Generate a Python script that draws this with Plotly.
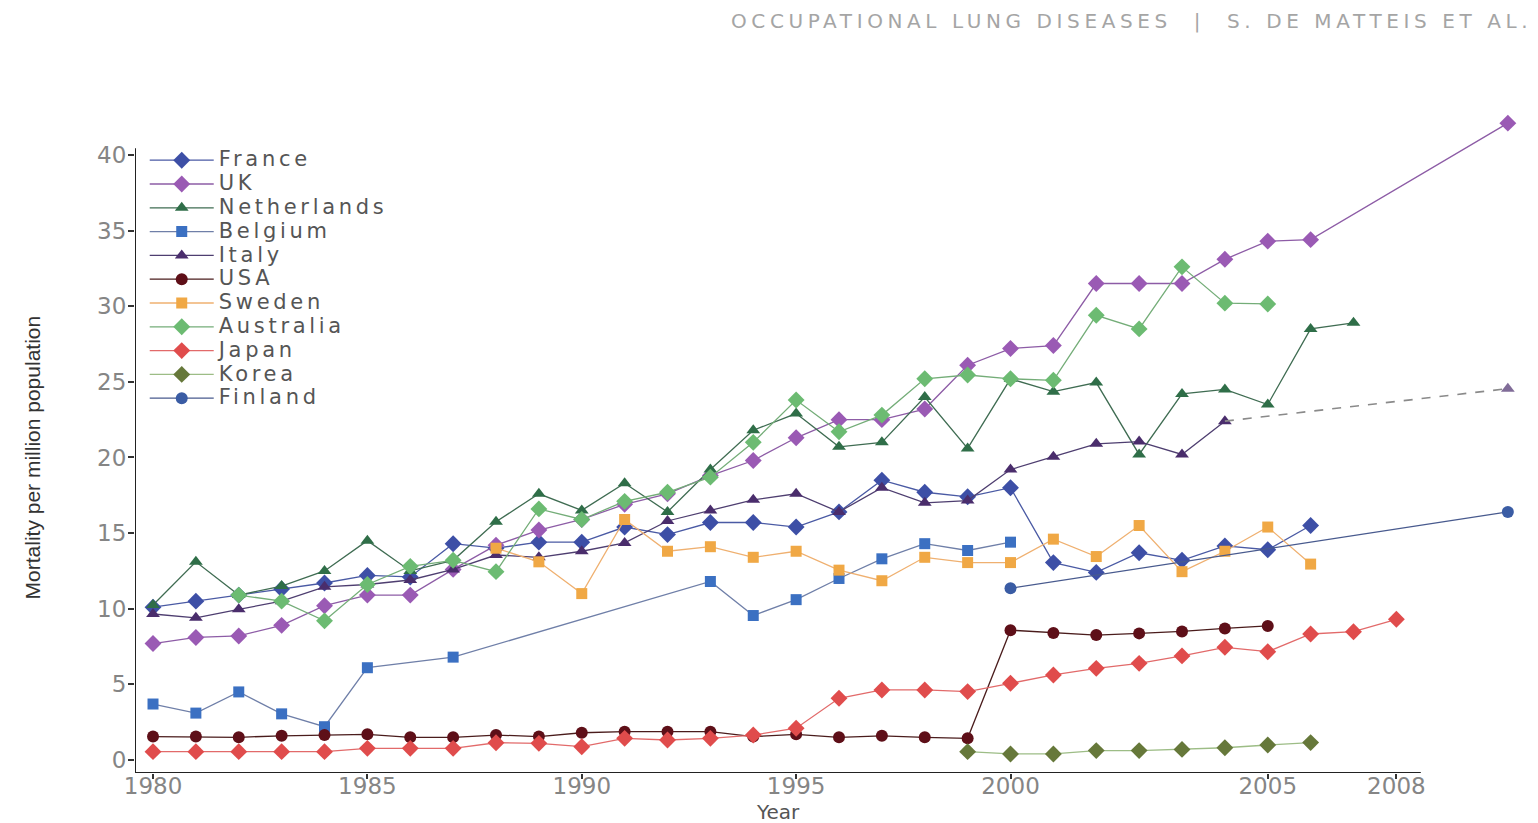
import plotly.graph_objects as go

# ---- data: mortality per million population, by country ----
# x positions are the plotted year slots; the final "projection" slot sits past the axis end
france_years = list(range(1980, 2008))
france_vals = [10.1, 10.5, 10.9, 11.3, 11.7, 12.2, 12.1, 14.3, 14.0, 14.4, 14.4, 15.4, 14.9,
               15.7, 15.7, 15.4, 16.4, 18.5, 17.7, 17.4, 18.0, 13.05, 12.4, 13.7, 13.2, 14.15,
               13.9, 15.5]

uk_years = list(range(1980, 2008)) + [2011.6]
uk_vals = [7.7, 8.1, 8.2, 8.9, 10.2, 10.9, 10.9, 12.6, 14.2, 15.2, 15.9, 16.9, 17.6, 18.8,
           19.8, 21.3, 22.5, 22.5, 23.2, 26.1, 27.2, 27.4, 31.5, 31.5, 31.5, 33.1, 34.3, 34.4,
           42.1]

netherlands_years = list(range(1980, 2009))
netherlands_vals = [10.25, 13.1, 10.9, 11.5, 12.5, 14.5, 12.5, 13.2, 15.75, 17.6, 16.5, 18.3,
                    16.4, 19.2, 21.8, 22.9, 20.7, 21.0, 24.0, 20.6, 25.2, 24.35, 24.95, 20.2,
                    24.2, 24.5, 23.5, 28.5, 28.9]

belgium_years = [1980, 1981, 1982, 1983, 1984, 1985, 1987, 1993, 1994, 1995, 1996, 1997,
                 1998, 1999, 2000]
belgium_vals = [3.7, 3.1, 4.5, 3.05, 2.2, 6.1, 6.8, 11.8, 9.55, 10.6, 12.0, 13.3, 14.3,
                13.85, 14.4]

italy_years = list(range(1980, 2006))
italy_vals = [9.65, 9.4, 9.96, 10.5, 11.45, 11.6, 11.9, 12.6, 13.55, 13.4, 13.8, 14.35, 15.8,
              16.5, 17.2, 17.6, 16.4, 18.0, 17.0, 17.15, 19.2, 20.05, 20.9, 21.05, 20.2, 22.4]
italy_proj_years = [2005, 2011.6]
italy_proj_vals = [22.4, 24.55]

usa_years = list(range(1980, 2007))
usa_vals = [1.55, 1.55, 1.5, 1.6, 1.65, 1.7, 1.5, 1.5, 1.65, 1.55, 1.8, 1.87, 1.87, 1.87,
            1.55, 1.7, 1.5, 1.6, 1.5, 1.43, 8.58, 8.4, 8.26, 8.37, 8.5, 8.7, 8.86]

sweden_years = list(range(1988, 2008))
sweden_vals = [14.0, 13.1, 11.0, 15.9, 13.8, 14.1, 13.4, 13.8, 12.55, 11.85, 13.4, 13.05,
               13.05, 14.6, 13.45, 15.5, 12.45, 13.8, 15.4, 12.95]

australia_years = list(range(1982, 2007))
australia_vals = [10.9, 10.5, 9.2, 11.6, 12.8, 13.2, 12.45, 16.6, 15.9, 17.1, 17.7, 18.7,
                  21.0, 23.8, 21.7, 22.8, 25.2, 25.45, 25.2, 25.1, 29.4, 28.5, 32.6, 30.2,
                  30.15]

japan_years = list(range(1980, 2010))
japan_vals = [0.55, 0.55, 0.55, 0.55, 0.55, 0.77, 0.77, 0.77, 1.14, 1.1, 0.88, 1.43, 1.32,
              1.43, 1.65, 2.1, 4.08, 4.63, 4.63, 4.52, 5.07, 5.62, 6.06, 6.39, 6.88, 7.45,
              7.16, 8.33, 8.48, 9.3]

korea_years = list(range(1999, 2008))
korea_vals = [0.55, 0.4, 0.4, 0.62, 0.62, 0.7, 0.81, 0.99, 1.15]

finland_years = [2000, 2011.6]
finland_vals = [11.35, 16.4]

# axis ticks (the slot for 2006 carries the "2005" label, the slot for 2009 "2008")
x_tick_vals = [1980, 1985, 1990, 1995, 2000, 2006, 2009]
x_tick_text = ["1980", "1985", "1990", "1995", "2000", "2005", "2008"]
y_tick_vals = [0, 5, 10, 15, 20, 25, 30, 35, 40]

X_MIN, X_MAX = 1979.58, 2012.0
Y_MIN, Y_MAX = -0.86, 42.64
AXIS_X_END = 2009.57
AXIS_Y_END = 40.45

series = [
    # name, years, values, symbol, marker color, line color, marker size
    ("France", france_years, france_vals, "diamond", "#3d4fa6", "#4a5aa4", 13),
    ("UK", uk_years, uk_vals, "diamond", "#9a5ab4", "#8d5ca6", 13),
    ("Netherlands", netherlands_years, netherlands_vals, "triangle-up", "#2f6e48", "#3f6c52", 12),
    ("Belgium", belgium_years, belgium_vals, "square", "#3b70c2", "#6f7fa8", 11),
    ("Italy", italy_years, italy_vals, "triangle-up", "#4a2d6c", "#4e3e70", 12),
    ("USA", usa_years, usa_vals, "circle", "#5e0f18", "#4a1c1c", 12),
    ("Sweden", sweden_years, sweden_vals, "square", "#f0a845", "#efb070", 11),
    ("Australia", australia_years, australia_vals, "diamond", "#6cbb72", "#74ad78", 13),
    ("Japan", japan_years, japan_vals, "diamond", "#e04c4c", "#e26a6a", 13),
    ("Korea", korea_years, korea_vals, "diamond", "#66783a", "#9dbd86", 13),
    ("Finland", finland_years, finland_vals, "circle", "#3a5ca4", "#485a8e", 12),
]


def spaced(text, size, spacing):
    """Wrap a label in a sized, letter-spaced span."""
    return f'<span style="font-size:{size}px;letter-spacing:{spacing}px">{text}</span>'


fig = go.Figure()

for name, xs, ys, sym, mcol, lcol, msize in series:
    fig.add_trace(go.Scatter(
        x=xs, y=ys, name=spaced(name, 21, 3.7), mode="lines+markers",
        line=dict(color=lcol, width=1.3),
        marker=dict(symbol=sym, size=msize, color=mcol, line=dict(width=0)),
        cliponaxis=False,
    ))
    if name == "Italy":
        # dashed projection of the Italian series
        fig.add_trace(go.Scatter(
            x=italy_proj_years, y=italy_proj_vals, mode="lines+markers", showlegend=False,
            line=dict(color="#8a8a8a", width=1.6, dash="dash"),
            marker=dict(symbol="triangle-up", size=[0, msize], color=mcol, line=dict(width=0)),
            cliponaxis=False, hoverinfo="skip",
        ))

tick_font = dict(family="DejaVu Sans", size=23, color="#858585")

fig.update_xaxes(
    range=[X_MIN, X_MAX], tickvals=x_tick_vals, ticktext=x_tick_text,
    showgrid=False, zeroline=False, showline=False,
    ticks="outside", ticklen=5, tickwidth=1.5, tickcolor="#333",
    tickfont=tick_font, ticklabelstandoff=-13,
)
fig.update_yaxes(
    range=[Y_MIN, Y_MAX], tickvals=y_tick_vals,
    showgrid=False, zeroline=False, showline=False,
    ticks="outside", ticklen=6, tickwidth=1.5, tickcolor="#333",
    tickfont=tick_font, ticklabelstandoff=-3,
)

# axis lines stop short of the plotting area so late points sit beyond them
fig.add_shape(type="line", xref="x", yref="y", x0=X_MIN, x1=AXIS_X_END, y0=Y_MIN, y1=Y_MIN,
              line=dict(color="#222", width=2))
fig.add_shape(type="line", xref="x", yref="y", x0=X_MIN, x1=X_MIN, y0=Y_MIN, y1=AXIS_Y_END,
              line=dict(color="#222", width=2))

fig.add_annotation(
    text="Year", xref="x", yref="paper", x=(X_MIN + AXIS_X_END) / 2, y=0, yshift=-39,
    showarrow=False, font=dict(family="DejaVu Sans", size=20, color="#555"),
    xanchor="center", yanchor="middle",
)
fig.add_annotation(
    text="Mortality per million population", xref="paper", yref="y",
    x=0, xshift=-103, y=20, textangle=-90, showarrow=False,
    font=dict(family="Liberation Sans", size=21, color="#333"),
    xanchor="center", yanchor="middle",
)
fig.add_annotation(
    text=spaced("OCCUPATIONAL LUNG DISEASES  |  S. DE MATTEIS ET AL.", 20, 4.6),
    xref="paper", yref="paper", x=1, xshift=9, y=1, yshift=94,
    showarrow=False, font=dict(family="DejaVu Sans", size=20, color="#a5a5a5"),
    xanchor="right", yanchor="middle",
)

fig.update_layout(
    width=1538, height=823,
    margin=dict(l=135, r=13, t=115, b=50),
    paper_bgcolor="white", plot_bgcolor="white",
    showlegend=True,
    legend=dict(
        x=0.007, y=0.957, xanchor="left", yanchor="top",
        bgcolor="rgba(0,0,0,0)", borderwidth=0,
        font=dict(family="DejaVu Sans", size=16, color="#555"),
        itemwidth=64, tracegroupgap=0,
    ),
)

fig.write_html("out.html")
